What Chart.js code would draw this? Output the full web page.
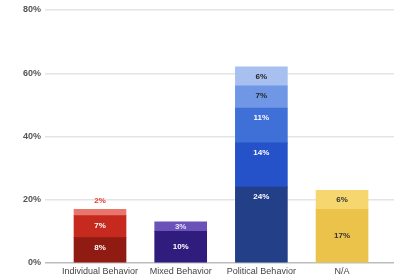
<!DOCTYPE html>
<html>
<head>
<meta charset="utf-8">
<script src="https://cdn.jsdelivr.net/npm/chart.js@4/dist/chart.umd.min.js"></script>
<style>
html,body{margin:0;padding:0;background:#fff;}
#wrap{width:394px;height:280px;}
</style>
</head>
<body>
<div id="wrap"><canvas id="c" width="394" height="280"></canvas></div>
<script>
// ---- data ----
const categories = ['Individual Behavior', 'Mixed Behavior', 'Political Behavior', 'N/A'];
const seg1 = [8, 10, 24, 17];
const seg2 = [7, 3, 14, 6];
const seg3 = [2, null, 11, null];
const seg4 = [null, null, 7, null];
const seg5 = [null, null, 6, null];
const yTicks = [0, 20, 40, 60, 80];

// ---- styles ----
const seg1Colors = ['#8f1b12', '#2f1c7c', '#223f88', '#ebc34b'];
const seg2Colors = ['#c62a1f', '#6a52b8', '#2552c8', '#f6d66f'];
const seg3Colors = ['#e8766c', '#000', '#3f70d8', '#000'];
const seg4Colors = ['#000', '#000', '#6f97e6', '#000'];
const seg5Colors = ['#000', '#000', '#a7c0f0', '#000'];
const seg1Label = ['#fff', '#fff', '#fff', '#333'];
const seg2Label = ['#fff', '#e8e2ff', '#fff', '#333'];
const seg3Label = ['#e53a30', '#fff', '#fff', '#333'];
const seg4Label = ['#222', '#222', '#222', '#222'];
const seg5Label = ['#222', '#222', '#222', '#222'];
const labelAnchor = ['top', 'center', 'top', 'center'];

const segs = [seg1, seg2, seg3, seg4, seg5];
const segColors = [seg1Colors, seg2Colors, seg3Colors, seg4Colors, seg5Colors];
const segLabels = [seg1Label, seg2Label, seg3Label, seg4Label, seg5Label];

const datasets = segs.map((s, k) => ({
  label: 'Segment ' + (k + 1),
  data: s.map((v, i) => ({x: i, y: v})).filter(p => p.y !== null),
  backgroundColor: ctx => segColors[k][ctx.raw ? ctx.raw.x : 0],
  labelColors: segLabels[k],
  borderWidth: 0,
  barThickness: 52
}));

const labelPlugin = {
  id: 'segLabels',
  afterDatasetsDraw(chart) {
    const ctx = chart.ctx;
    ctx.save();
    ctx.font = 'bold 8px "Liberation Sans", Arial, sans-serif';
    ctx.textAlign = 'center';
    ctx.textBaseline = 'middle';
    chart.data.datasets.forEach((ds, k) => {
      const meta = chart.getDatasetMeta(k);
      meta.data.forEach((el, j) => {
        const raw = ds.data[j];
        if (!raw || raw.y === null) return;
        const cat = raw.x;
        const top = el.y, base = el.base, h = base - top;
        let y;
        if (h < 8) y = top - 8;
        else if (labelAnchor[cat] === 'top' && h > 20) y = top + 10;
        else y = (top + base) / 2;
        ctx.fillStyle = ds.labelColors[cat];
        ctx.fillText(raw.y + '%', el.x, y);
      });
    });
    ctx.restore();
  }
};

new Chart(document.getElementById('c'), {
  type: 'bar',
  data: {datasets},
  plugins: [labelPlugin],
  options: {
    responsive: false,
    animation: false,
    layout: {padding: {top: 10, right: 0, bottom: 0, left: 0}},
    plugins: {legend: {display: false}, tooltip: {enabled: false}},
    scales: {
      x: {
        type: 'linear',
        stacked: true,
        offset: false,
        bounds: 'data',
        min: -0.682,
        max: 3.644,
        afterBuildTicks: scale => {
          scale.ticks = categories.map((c, i) => ({value: i}));
        },
        afterFit: scale => { scale.height = 17; },
        grid: {display: false, drawTicks: false},
        border: {display: false},
        ticks: {
          autoSkip: false,
          maxRotation: 0,
          padding: 3,
          color: '#444',
          font: {size: 9, family: '"Liberation Sans", Arial, sans-serif'},
          callback: v => categories[v] !== undefined ? categories[v] : ''
        }
      },
      y: {
        stacked: true,
        min: 0,
        max: 80,
        afterBuildTicks: scale => {
          scale.ticks = yTicks.map(v => ({value: v}));
        },
        afterFit: scale => { scale.width = 45; },
        grid: {
          drawTicks: false,
          color: c => (c.tick && c.tick.value === 0) ? '#bdbdbd' : '#e4e4e4',
          lineWidth: 1.5
        },
        border: {display: false},
        ticks: {
          padding: 4,
          color: '#555',
          font: {size: 9, weight: 'bold', family: '"Liberation Sans", Arial, sans-serif'},
          callback: v => v + '%'
        }
      }
    }
  }
});
</script>
</body>
</html>
